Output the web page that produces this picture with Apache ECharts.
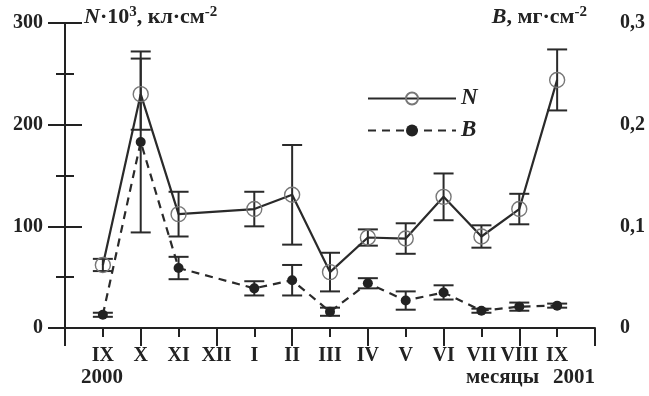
<!DOCTYPE html>
<html>
<head>
<meta charset="UTF-8">
<title>N и B по месяцам</title>
<script type="text/javascript" src="https://cdn.jsdelivr.net/npm/echarts@6/dist/echarts.min.js"></script>
<style>
  body { margin: 0; background: #fff; }
</style>
</head>
<body>

<div id="box" style="width:649px;height:396px;"></div>

<script type="text/javascript">

// месяцы (позиции 1..13 на оси)
var months = ['IX', 'X', 'XI', 'XII', 'I', 'II', 'III', 'IV', 'V', 'VI', 'VII', 'VIII', 'IX'];
// N·10^3, кл·см-2 и разброс
var nVal = [62, 230, 112, null, 117, 131, 55, 89, 88, 129, 90, 117, 244];
var nErr = [6, 35, 22, null, 17, 49, 19, 8, 15, 23, 11, 15, 30];
// B, мг·см-2 и разброс
var bVal = [0.013, 0.183, 0.059, null, 0.039, 0.047, 0.016, 0.044, 0.027, 0.035, 0.017, 0.021, 0.022];
var bErr = [0.002, 0.089, 0.011, null, 0.007, 0.015, 0.004, 0.005, 0.009, 0.007, 0.002, 0.004, 0.002];
// подписи осей
var leftTicks = [0, 100, 200, 300];
var rightTicks = [0, 0.1, 0.2, 0.3];

var font = '"Liberation Serif", "Times New Roman", serif';
var ink = '#222';

function points(vals) {
  var out = [];
  vals.forEach(function (v, i) { if (v != null) out.push([i + 1, v]); });
  return out;
}

function bars(vals, errs) {
  var out = [];
  vals.forEach(function (v, i) { if (v != null) out.push([i + 1, v - errs[i], v + errs[i]]); });
  return out;
}

function errorBars(vals, errs, yIdx) {
  return {
    type: 'custom',
    xAxisIndex: 0,
    yAxisIndex: yIdx,
    data: bars(vals, errs),
    encode: { x: 0, y: [1, 2] },
    z: 3,
    silent: true,
    renderItem: function (params, api) {
      var lo = api.coord([api.value(0), api.value(1)]);
      var hi = api.coord([api.value(0), api.value(2)]);
      var w = 10;
      var st = { stroke: '#2a2a2a', lineWidth: 2 };
      return {
        type: 'group',
        children: [
          { type: 'line', shape: { x1: lo[0], y1: lo[1], x2: hi[0], y2: hi[1] }, style: st },
          { type: 'line', shape: { x1: lo[0] - w, y1: lo[1], x2: lo[0] + w, y2: lo[1] }, style: st },
          { type: 'line', shape: { x1: hi[0] - w, y1: hi[1], x2: hi[0] + w, y2: hi[1] }, style: st }
        ]
      };
    }
  };
}

var mychart = echarts.init(document.getElementById('box'));

var axisLine = { show: true, lineStyle: { color: ink, width: 2 } };
var labelStyle = { color: ink, fontFamily: font, fontWeight: 'bold', fontSize: 20 };
var supRich = function (size) {
  return {
    i: { fontFamily: font, fontStyle: 'italic', fontWeight: 'bold', fontSize: size, fill: ink },
    n: { fontFamily: font, fontWeight: 'bold', fontSize: size, fill: ink },
    s: { fontFamily: font, fontWeight: 'bold', fontSize: Math.round(size * 0.68), fill: ink, padding: [0, 0, 10, 0] }
  };
};

var option = {
  animation: false,
  backgroundColor: '#fff',
  grid: { left: 65, right: 54, top: 23, bottom: 68 },
  legend: {
    data: ['N', 'B'],
    orient: 'vertical',
    left: 362,
    top: 82,
    itemWidth: 88,
    itemHeight: 15,
    itemGap: 9,
    textStyle: { color: ink, fontFamily: font, fontStyle: 'italic', fontWeight: 'bold', fontSize: 23 }
  },
  xAxis: [{
    type: 'value', min: 0, max: 14, interval: 2, position: 'bottom',
    axisLine: axisLine,
    axisTick: { show: true, length: 18, lineStyle: { color: ink, width: 2 } },
    minorTick: { show: true, splitNumber: 2, length: 9, lineStyle: { color: ink, width: 2 } },
    axisLabel: { show: false },
    splitLine: { show: false }
  }, {
    type: 'value', min: 0, max: 14, interval: 1, position: 'bottom',
    axisLine: { show: false },
    axisTick: { show: false },
    axisLabel: Object.assign({
      margin: 18,
      formatter: function (v) { return months[v - 1] || ''; }
    }, labelStyle),
    splitLine: { show: false }
  }],
  yAxis: [{
    type: 'value', min: leftTicks[0], max: leftTicks[leftTicks.length - 1], interval: 100, position: 'left',
    axisLine: axisLine,
    axisTick: { show: true, length: 17, lineStyle: { color: ink, width: 2 } },
    minorTick: { show: true, splitNumber: 2, length: 9, lineStyle: { color: ink, width: 2 } },
    axisLabel: Object.assign({ margin: 22 }, labelStyle),
    splitLine: { show: false }
  }, {
    type: 'value', min: rightTicks[0], max: rightTicks[rightTicks.length - 1], interval: 0.1, position: 'right',
    axisLine: axisLine,
    axisTick: { show: true, length: 17, lineStyle: { color: ink, width: 2 } },
    minorTick: { show: true, splitNumber: 2, length: 9, lineStyle: { color: ink, width: 2 } },
    axisLabel: Object.assign({
      margin: 25,
      formatter: function (v) { return v === 0 ? '0' : v.toFixed(1).replace('.', ','); }
    }, labelStyle),
    splitLine: { show: false }
  }],
  series: [
    errorBars(nVal, nErr, 0),
    errorBars(bVal, bErr, 1),
    {
      name: 'N', type: 'line', xAxisIndex: 0, yAxisIndex: 0,
      data: points(nVal),
      symbol: 'circle', symbolSize: 15,
      itemStyle: { color: 'rgba(255,255,255,0)', borderColor: '#777', borderWidth: 1.4 },
      lineStyle: { color: '#2a2a2a', width: 2.2 },
      z: 4
    },
    {
      name: 'B', type: 'line', xAxisIndex: 0, yAxisIndex: 1,
      data: points(bVal),
      symbol: 'circle', symbolSize: 10,
      itemStyle: { color: '#222', borderColor: '#222', borderWidth: 0 },
      lineStyle: { color: '#2a2a2a', width: 2.2, type: [8, 6] },
      z: 4
    }
  ],
  graphic: [{
    type: 'text', left: 84, top: 5,
    style: { text: '{i|N}{n|·10}{s|3}{n|, кл·см}{s|-2}', rich: supRich(22) }
  }, {
    type: 'text', right: 62, top: 5,
    style: { text: '{i|B}{n|, мг·см}{s|-2}', rich: supRich(22) }
  }, {
    type: 'text', left: 81, top: 367,
    style: { text: '2000', fontFamily: font, fontWeight: 'bold', fontSize: 21, fill: ink }
  }, {
    type: 'text', left: 466, top: 367,
    style: { text: 'месяцы', fontFamily: font, fontWeight: 'bold', fontSize: 21, fill: ink }
  }, {
    type: 'text', left: 553, top: 367,
    style: { text: '2001', fontFamily: font, fontWeight: 'bold', fontSize: 21, fill: ink }
  }]
};

mychart.setOption(option);
</script>
</body>
</html>
